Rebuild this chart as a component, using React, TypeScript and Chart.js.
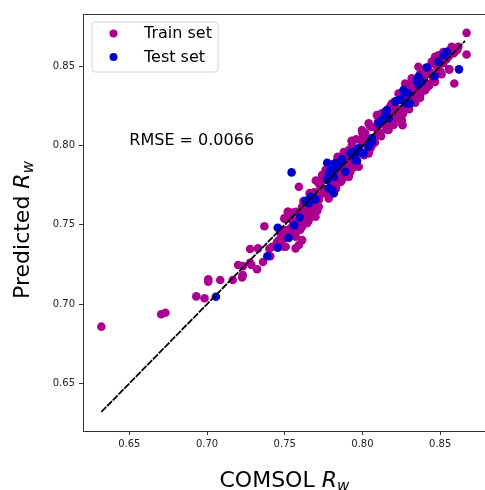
import React, { useEffect, useRef } from "react";
import { Chart, registerables } from "chart.js";

Chart.register(...registerables);

const TICKS_X = [0.65, 0.7, 0.75, 0.8, 0.85];
const TICKS_Y = [0.65, 0.7, 0.75, 0.8, 0.85];
const X_RANGE = [0.6202, 0.8793];
const Y_RANGE = [0.62, 0.883];
const DIAGONAL = [0.632, 0.866];
const RMSE_LABEL = "RMSE = 0.0066";
const SERIES_NAMES = ["Train set", "Test set"];
const TRAIN_COLOR = "#aa0090";
const TEST_COLOR = "#0000cc";

const trainPoints: number[][] = [
  [0.632, 0.6858], [0.6705, 0.6936], [0.6732, 0.6946], [0.6931, 0.7049], [0.6984, 0.7037],
  [0.7008, 0.7157], [0.7008, 0.7141], [0.7085, 0.7152], [0.7166, 0.7152], [0.7226, 0.7169],
  [0.723, 0.7184], [0.72, 0.7247], [0.723, 0.724], [0.7277, 0.7261], [0.7285, 0.7247],
  [0.7277, 0.7348], [0.7328, 0.7352], [0.7322, 0.722], [0.736, 0.7266], [0.7369, 0.7491],
  [0.7401, 0.7349], [0.7407, 0.7302], [0.7471, 0.7371], [0.748, 0.7383], [0.7487, 0.7409],
  [0.7501, 0.7537], [0.7512, 0.7467], [0.7527, 0.7461], [0.757, 0.7457], [0.7548, 0.7488],
  [0.7591, 0.774], [0.7523, 0.7583], [0.7559, 0.7579], [0.7602, 0.7579], [0.7612, 0.7499],
  [0.7634, 0.752], [0.7519, 0.7583], [0.7574, 0.7583], [0.7638, 0.7583], [0.7676, 0.7562],
  [0.7497, 0.7541], [0.7506, 0.7447], [0.7538, 0.7457], [0.7484, 0.7404], [0.757, 0.7425],
  [0.7612, 0.7488], [0.7644, 0.751], [0.7666, 0.7593], [0.7698, 0.7551], [0.7719, 0.7614],
  [0.7495, 0.7362], [0.7474, 0.7447], [0.7591, 0.7373], [0.7527, 0.7572], [0.742, 0.7362],
  [0.7463, 0.7404], [0.7506, 0.7362], [0.757, 0.7352], [0.7612, 0.7404], [0.757, 0.7447],
  [0.7484, 0.7467], [0.7655, 0.753], [0.7676, 0.7572], [0.7548, 0.753], [0.7612, 0.7614],
  [0.7666, 0.7614], [0.7708, 0.7677], [0.7751, 0.7699], [0.7719, 0.7762], [0.774, 0.7814],
  [0.7783, 0.7667], [0.7816, 0.774], [0.7773, 0.7856], [0.7805, 0.7877], [0.7837, 0.7909],
  [0.7826, 0.7762], [0.7858, 0.7835], [0.7869, 0.7783], [0.7912, 0.7803], [0.7933, 0.7856],
  [0.7976, 0.7867], [0.804, 0.7951], [0.7933, 0.8003], [0.7912, 0.7972], [0.7997, 0.8014],
  [0.774, 0.7783], [0.7762, 0.7846], [0.7805, 0.7783], [0.7837, 0.7835], [0.7837, 0.7762],
  [0.789, 0.7825], [0.7912, 0.7877], [0.7869, 0.7898], [0.789, 0.7951], [0.7933, 0.7993],
  [0.7976, 0.7951], [0.7955, 0.7972], [0.7933, 0.7919], [0.7997, 0.8098], [0.8019, 0.8077],
  [0.804, 0.8035], [0.8061, 0.8003], [0.8061, 0.8119], [0.804, 0.814], [0.8093, 0.8192],
  [0.8104, 0.8077], [0.8125, 0.8203], [0.8147, 0.814], [0.8168, 0.8098], [0.8179, 0.8245],
  [0.8189, 0.8266], [0.8211, 0.8245], [0.8221, 0.8182], [0.8253, 0.814], [0.8232, 0.8329],
  [0.8275, 0.8224], [0.8296, 0.8287], [0.8275, 0.8392], [0.8317, 0.8371], [0.836, 0.8329],
  [0.8403, 0.835], [0.8168, 0.8161], [0.82, 0.8182], [0.8232, 0.8203], [0.8264, 0.8235],
  [0.8307, 0.8276], [0.8339, 0.8308], [0.8285, 0.8329], [0.8307, 0.8392], [0.8328, 0.8361],
  [0.836, 0.8382], [0.8381, 0.8413], [0.8403, 0.8445], [0.8424, 0.8476], [0.8446, 0.8518],
  [0.8467, 0.856], [0.85, 0.8539], [0.8531, 0.856], [0.8564, 0.8602], [0.8596, 0.8613],
  [0.8617, 0.8623], [0.8553, 0.856], [0.8585, 0.8581], [0.8253, 0.8161], [0.8258, 0.8129],
  [0.8317, 0.8424], [0.836, 0.8497], [0.867, 0.8711], [0.867, 0.8575], [0.8591, 0.8392],
  [0.8557, 0.8481], [0.851, 0.8451], [0.8574, 0.8623], [0.8596, 0.8592], [0.8514, 0.8571],
  [0.8478, 0.855], [0.8446, 0.8529], [0.8467, 0.8402], [0.8403, 0.8466], [0.8559, 0.8481],
  [0.769, 0.7705], [0.773, 0.774], [0.776, 0.7725], [0.7795, 0.777], [0.785, 0.78],
  [0.788, 0.786], [0.79, 0.793], [0.7945, 0.789], [0.7985, 0.796], [0.8005, 0.806],
  [0.803, 0.8], [0.8075, 0.805], [0.809, 0.811], [0.8115, 0.808], [0.8135, 0.817],
  [0.815, 0.812], [0.8185, 0.815], [0.8195, 0.821], [0.822, 0.823], [0.824, 0.819],
  [0.827, 0.828], [0.829, 0.8245], [0.831, 0.834], [0.833, 0.829], [0.835, 0.836],
  [0.8375, 0.833], [0.8395, 0.842], [0.842, 0.839], [0.844, 0.846], [0.8455, 0.841],
  [0.848, 0.85], [0.85, 0.847], [0.852, 0.852], [0.854, 0.8545], [0.8575, 0.86],
  [0.861, 0.8605], [0.758, 0.75], [0.762, 0.756], [0.764, 0.76], [0.77, 0.762],
  [0.772, 0.766], [0.7745, 0.77], [0.754, 0.748], [0.749, 0.743], [0.745, 0.739],
  [0.76, 0.747], [0.768, 0.757], [0.771, 0.759], [0.778, 0.769], [0.783, 0.773],
  [0.786, 0.777], [0.792, 0.783], [0.796, 0.787], [0.801, 0.794], [0.805, 0.798],
  [0.808, 0.802], [0.812, 0.806], [0.816, 0.81], [0.82, 0.813], [0.823, 0.817],
  [0.826, 0.82], [0.83, 0.823], [0.834, 0.827], [0.837, 0.83], [0.841, 0.836],
  [0.843, 0.838], [0.847, 0.844], [0.78, 0.788], [0.784, 0.793], [0.788, 0.796],
  [0.793, 0.803], [0.796, 0.804], [0.8, 0.808], [0.805, 0.812], [0.81, 0.815],
  [0.814, 0.821], [0.818, 0.825], [0.821, 0.828], [0.825, 0.832], [0.829, 0.837],
  [0.833, 0.841], [0.837, 0.845], [0.841, 0.849], [0.845, 0.853], [0.849, 0.857],
  [0.852, 0.859], [0.77, 0.778], [0.774, 0.78], [0.766, 0.77], [0.762, 0.765],
];

const testPoints: number[][] = [
  [0.7057, 0.7047], [0.7388, 0.7302], [0.7455, 0.7482], [0.7455, 0.7356], [0.7525, 0.7417],
  [0.7561, 0.7497], [0.7596, 0.7547], [0.7634, 0.7652], [0.7655, 0.7636], [0.7544, 0.7831],
  [0.7773, 0.7892], [0.7805, 0.772], [0.7816, 0.7699], [0.7666, 0.7677], [0.7698, 0.7661],
  [0.7783, 0.7825], [0.7816, 0.785], [0.7847, 0.7877], [0.7869, 0.7913], [0.789, 0.7835],
  [0.7923, 0.7951], [0.7958, 0.7951], [0.7965, 0.7904], [0.8008, 0.7951], [0.804, 0.7993],
  [0.8061, 0.8024], [0.7794, 0.7846], [0.7816, 0.7803], [0.7933, 0.7961], [0.7955, 0.7909],
  [0.7976, 0.7983], [0.8061, 0.8046], [0.8104, 0.814], [0.8147, 0.8203], [0.8168, 0.8172],
  [0.8232, 0.8287], [0.8264, 0.8339], [0.8285, 0.8266], [0.8296, 0.8329], [0.836, 0.8382],
  [0.8381, 0.8402], [0.8621, 0.8481], [0.8463, 0.8438], [0.8542, 0.8592], [0.8521, 0.8571],
  [0.8489, 0.8529], [0.8414, 0.8493], [0.836, 0.8434], [0.8349, 0.8413], [0.8264, 0.835],
  [0.8253, 0.8287], [0.8211, 0.8276], [0.8157, 0.8224], [0.8125, 0.8161], [0.8307, 0.8266],
  [0.7826, 0.7888], [0.7773, 0.7783], [0.7783, 0.773],
];

const toXY = (arr: number[][]) => arr.map(([x, y]) => ({ x, y }));

export default function App() {
  const ref = useRef<HTMLCanvasElement | null>(null);

  useEffect(() => {
    document.body.style.overflow = "hidden";
    const canvas = ref.current;
    if (!canvas) return;

    const overlay = {
      id: "overlay",
      afterDatasetsDraw(chart: any) {
        const { ctx, chartArea, scales } = chart;
        ctx.save();
        ctx.strokeStyle = "#333";
        ctx.lineWidth = 1;
        ctx.strokeRect(chartArea.left + 0.5, chartArea.top + 0.5, chartArea.right - chartArea.left, chartArea.bottom - chartArea.top);

        ctx.fillStyle = "#000";
        ctx.font = "16px 'DejaVu Sans'";
        ctx.textBaseline = "middle";
        ctx.textAlign = "left";
        ctx.fillText(RMSE_LABEL, scales.x.getPixelForValue(0.65), scales.y.getPixelForValue(0.8027));

        const lx = 92, ly = 22, lw = 126, lh = 50;
        ctx.beginPath();
        const r = 3;
        ctx.moveTo(lx + r, ly);
        ctx.lineTo(lx + lw - r, ly);
        ctx.quadraticCurveTo(lx + lw, ly, lx + lw, ly + r);
        ctx.lineTo(lx + lw, ly + lh - r);
        ctx.quadraticCurveTo(lx + lw, ly + lh, lx + lw - r, ly + lh);
        ctx.lineTo(lx + r, ly + lh);
        ctx.quadraticCurveTo(lx, ly + lh, lx, ly + lh - r);
        ctx.lineTo(lx, ly + r);
        ctx.quadraticCurveTo(lx, ly, lx + r, ly);
        ctx.closePath();
        ctx.fillStyle = "rgba(255,255,255,0.8)";
        ctx.fill();
        ctx.strokeStyle = "#d6d6d6";
        ctx.stroke();
        const colors = [TRAIN_COLOR, TEST_COLOR];
        const rows = [33.5, 57];
        SERIES_NAMES.forEach((name, i) => {
          ctx.beginPath();
          ctx.arc(113.5, rows[i], 4, 0, Math.PI * 2);
          ctx.fillStyle = colors[i];
          ctx.fill();
          ctx.fillStyle = "#000";
          ctx.font = "16px 'DejaVu Sans'";
          ctx.textBaseline = "middle";
          ctx.fillText(name, 144, rows[i] + 0.5);
        });

        const drawLabel = (plain: string) => {
          ctx.textBaseline = "alphabetic";
          ctx.textAlign = "left";
          ctx.font = "22px 'DejaVu Sans'";
          const wa = ctx.measureText(plain).width;
          ctx.font = "italic 22px 'DejaVu Sans'";
          const wb = ctx.measureText("R").width;
          ctx.font = "italic 15px 'DejaVu Sans'";
          const wc = ctx.measureText("w").width;
          const x0 = -(wa + wb + wc) / 2;
          ctx.fillStyle = "#000";
          ctx.font = "22px 'DejaVu Sans'";
          ctx.fillText(plain, x0, 0);
          ctx.font = "italic 22px 'DejaVu Sans'";
          ctx.fillText("R", x0 + wa, 0);
          ctx.font = "italic 15px 'DejaVu Sans'";
          ctx.fillText("w", x0 + wa + wb, 4);
        };

        ctx.save();
        ctx.translate((chartArea.left + chartArea.right) / 2, 487);
        drawLabel("COMSOL ");
        ctx.restore();

        ctx.save();
        ctx.translate(29, 230);
        ctx.rotate(-Math.PI / 2);
        drawLabel("Predicted ");
        ctx.restore();

        ctx.restore();
      },
    };

    const chart = new Chart(canvas, {
      type: "scatter",
      data: {
        datasets: [
          {
            type: "line",
            label: "diag",
            data: [
              { x: DIAGONAL[0], y: DIAGONAL[0] },
              { x: DIAGONAL[1], y: DIAGONAL[1] },
            ],
            borderColor: "#000",
            borderWidth: 1.8,
            borderDash: [7, 1.2],
            pointRadius: 0,
            fill: false,
            order: 0,
          } as any,
          {
            label: SERIES_NAMES[1],
            data: toXY(testPoints),
            backgroundColor: TEST_COLOR,
            borderWidth: 0,
            pointRadius: 4.3,
            order: 1,
          },
          {
            label: SERIES_NAMES[0],
            data: toXY(trainPoints),
            backgroundColor: TRAIN_COLOR,
            borderWidth: 0,
            pointRadius: 4.3,
            order: 2,
          },
        ],
      },
      options: {
        animation: false,
        responsive: false,
        maintainAspectRatio: false,
        layout: { padding: { top: 14, right: 2, left: 0, bottom: 0 } },
        plugins: { legend: { display: false }, tooltip: { enabled: false } },
        scales: {
          x: {
            type: "linear",
            min: X_RANGE[0],
            max: X_RANGE[1],
            afterBuildTicks: (s: any) => {
              s.ticks = TICKS_X.map((v) => ({ value: v }));
            },
            afterFit: (s: any) => {
              s.height = 59;
            },
            ticks: {
              font: { family: "'DejaVu Sans'", size: 10 },
              color: "#222",
              padding: 3,
              maxRotation: 0,
              callback: (v: any) => Number(v).toFixed(2),
            },
            grid: { display: true, drawOnChartArea: false, drawTicks: true, tickLength: 4, color: "#333" },
            border: { display: true, color: "#333" },
          },
          y: {
            type: "linear",
            min: Y_RANGE[0],
            max: Y_RANGE[1],
            afterBuildTicks: (s: any) => {
              s.ticks = TICKS_Y.map((v) => ({ value: v }));
            },
            afterFit: (s: any) => {
              s.width = 83;
            },
            ticks: {
              font: { family: "'DejaVu Sans'", size: 10 },
              color: "#222",
              padding: 4,
              callback: (v: any) => Number(v).toFixed(2),
            },
            grid: { display: true, drawOnChartArea: false, drawTicks: true, tickLength: 4, color: "#333" },
            border: { display: true, color: "#333" },
          },
        },
      },
      plugins: [overlay],
    });
    return () => chart.destroy();
  }, []);

  return (
    <div style={{ position: "absolute", left: 0, top: 0, width: 490, height: 490 }}>
      <canvas ref={ref} width={490} height={490} style={{ width: 490, height: 490, display: "block" }} />
    </div>
  );
}
